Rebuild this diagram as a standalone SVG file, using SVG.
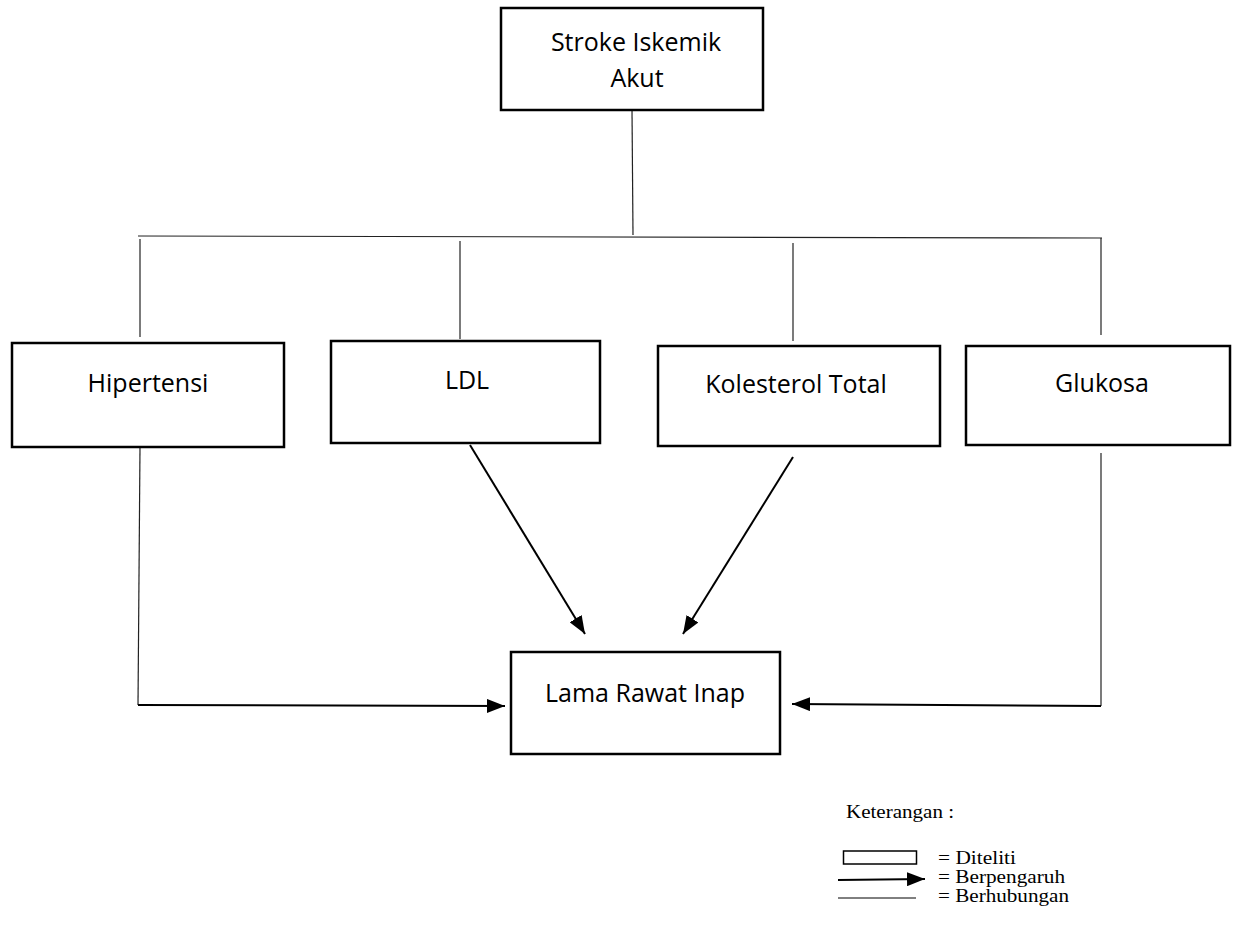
<svg xmlns="http://www.w3.org/2000/svg" width="1242" height="931" viewBox="0 0 1242 931">
<style>
.box{fill:#fff;stroke:#000;stroke-width:2.5}
.lbl{font-family:"Open Sans","Liberation Sans",sans-serif;font-size:25px;fill:#000;text-anchor:middle}
.thin{fill:none;stroke:#222;stroke-width:1.2}
.arr{fill:none;stroke:#000;stroke-width:2;marker-end:url(#ahl)}
.leg{font-family:"Liberation Serif",serif;font-size:19px;fill:#000}
</style>
<defs>
<marker id="ahl" markerWidth="18" markerHeight="14" refX="18" refY="7" orient="auto" markerUnits="userSpaceOnUse">
<path d="M0,0 L18,7 L0,14 z" fill="#000"/>
</marker>
</defs>
<rect width="1242" height="931" fill="#fff"/>
<g id="connectors">
<line class="thin" x1="632" y1="110" x2="633" y2="235"/>
<line class="thin" x1="138" y1="236" x2="1102" y2="238"/>
<line class="thin" x1="140" y1="239" x2="140" y2="337"/>
<line class="thin" x1="460" y1="241" x2="460" y2="339"/>
<line class="thin" x1="793" y1="243" x2="793" y2="341"/>
<line class="thin" x1="1101" y1="238" x2="1101" y2="335"/>
<line class="thin" x1="140" y1="447" x2="138" y2="705"/>
<line class="arr" x1="138" y1="705" x2="505" y2="706"/>
<line class="arr" x1="470" y1="445" x2="585" y2="634"/>
<line class="arr" x1="793" y1="457" x2="683" y2="634"/>
<line class="thin" x1="1101" y1="453" x2="1101" y2="706"/>
<line class="arr" x1="1101" y1="706" x2="792" y2="704"/>
</g>
<g id="stroke">
<rect class="box" x="501" y="8" width="262" height="102"/>
<text class="lbl" x="636" y="51">Stroke Iskemik</text>
<text class="lbl" x="637" y="87">Akut</text>
</g>
<g id="hipertensi">
<rect class="box" x="12" y="343" width="272" height="104"/>
<text class="lbl" x="148" y="392">Hipertensi</text>
</g>
<g id="ldl">
<rect class="box" x="331" y="341" width="269" height="102"/>
<text class="lbl" x="467" y="389">LDL</text>
</g>
<g id="kolesterol">
<rect class="box" x="658" y="346" width="282" height="100"/>
<text class="lbl" x="796" y="393">Kolesterol Total</text>
</g>
<g id="glukosa">
<rect class="box" x="966" y="346" width="264" height="99"/>
<text class="lbl" x="1102" y="392">Glukosa</text>
</g>
<g id="lama">
<rect class="box" x="511" y="652" width="269" height="102"/>
<text class="lbl" x="645" y="702">Lama Rawat Inap</text>
</g>
<g id="legend">
<text class="leg" x="846" y="818" textLength="108" lengthAdjust="spacingAndGlyphs">Keterangan :</text>
<rect x="843.5" y="851" width="73" height="13" fill="#fff" stroke="#000" stroke-width="1.5"/>
<text class="leg" x="938" y="864" textLength="78" lengthAdjust="spacingAndGlyphs">= Diteliti</text>
<line class="arr" x1="838" y1="880" x2="925" y2="879"/>
<text class="leg" x="938" y="883" textLength="127" lengthAdjust="spacingAndGlyphs">= Berpengaruh</text>
<line x1="838" y1="898" x2="916" y2="898" stroke="#000" stroke-width="1"/>
<text class="leg" x="938" y="902" textLength="131" lengthAdjust="spacingAndGlyphs">= Berhubungan</text>
</g>
</svg>
